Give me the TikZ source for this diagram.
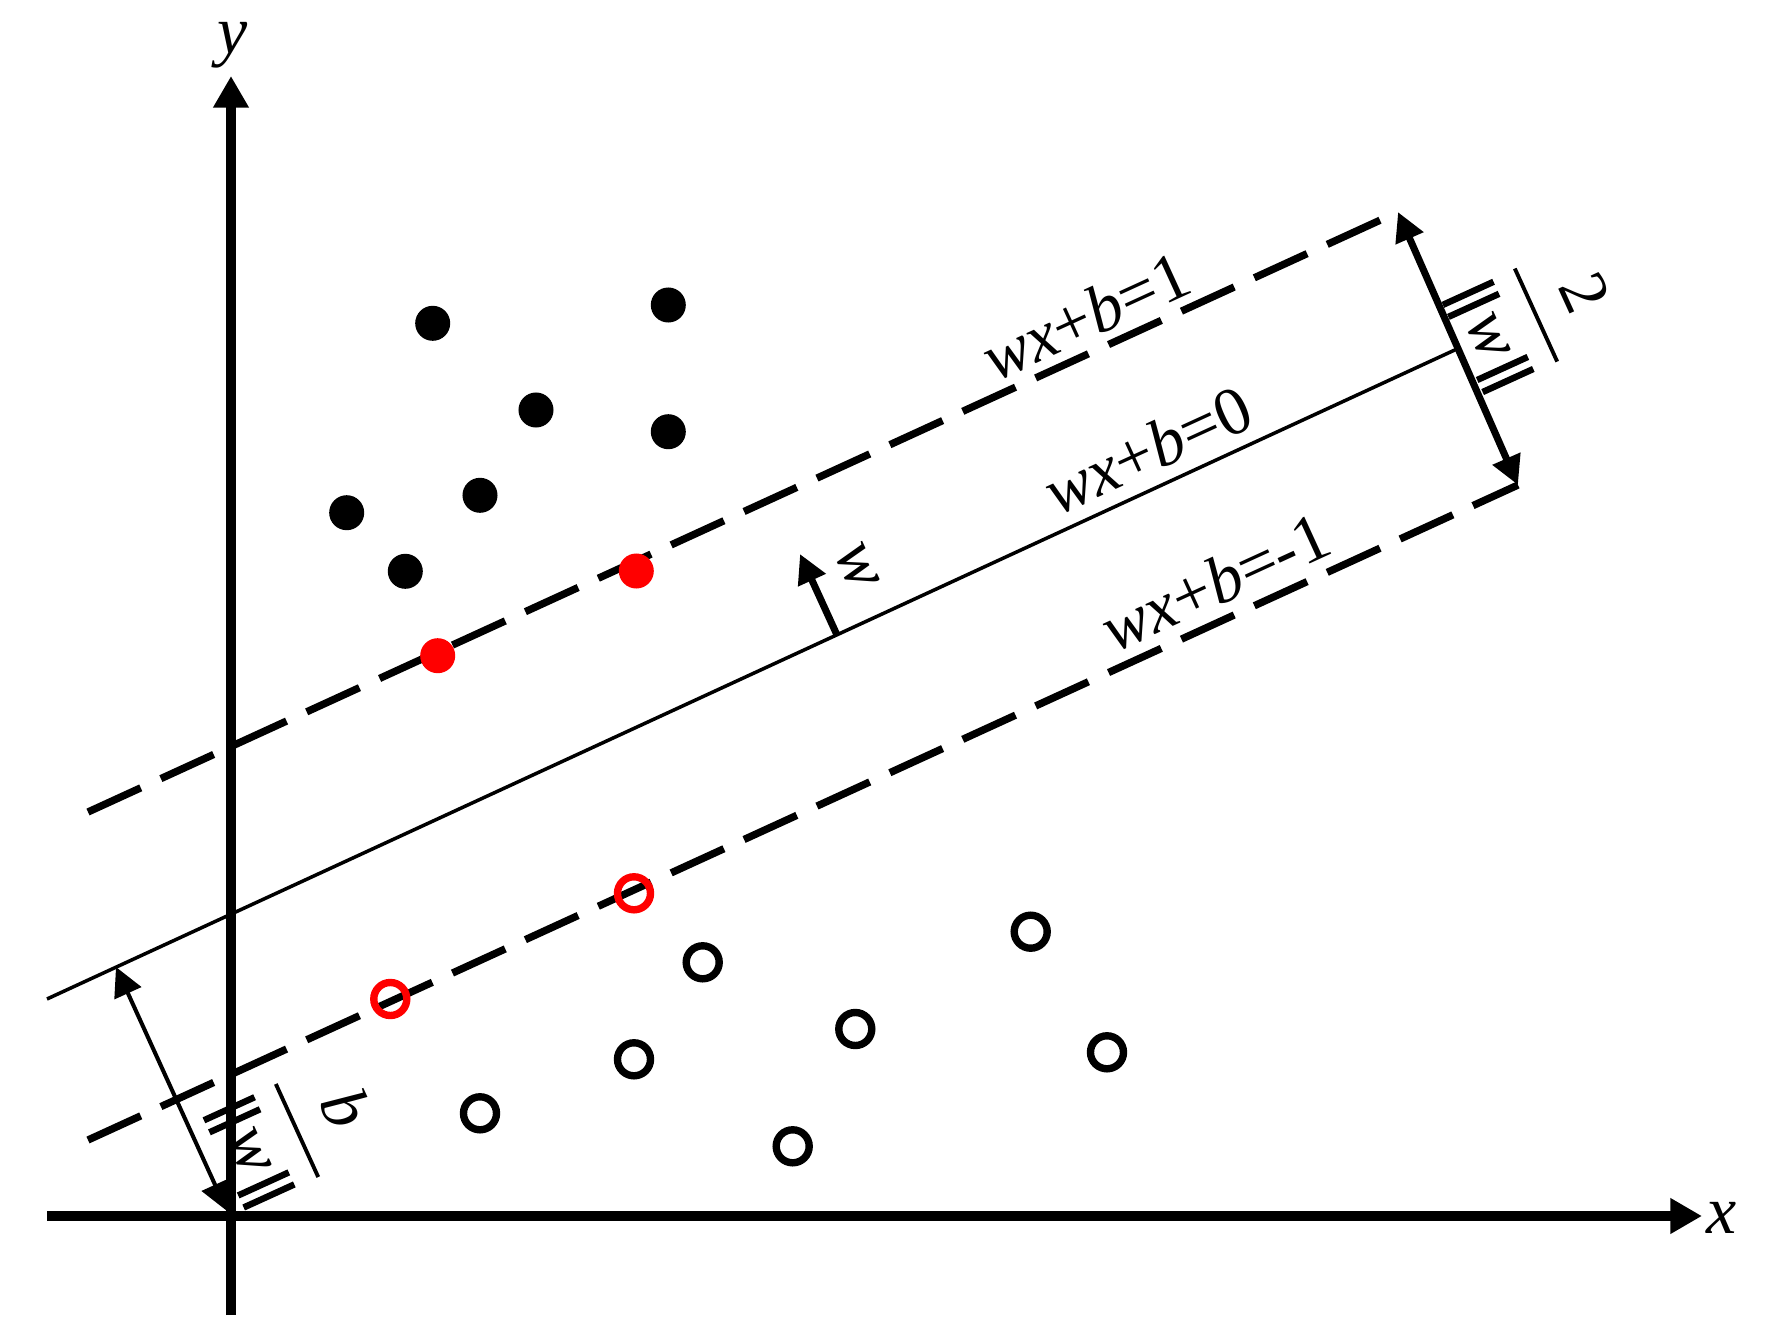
\documentclass[tikz,border=0pt]{standalone}
\usepackage{amsmath}
\usepackage{fontspec}
\setmainfont{Liberation Serif}
\usetikzlibrary{arrows.meta}
\newcommand{\nbar}{\rule[-0.18em]{0.095em}{0.82em}}
\newcommand{\nrmw}{\mbox{\nbar\hspace{0.1em}\nbar\hspace{0.12em}\textit{w}\hspace{0.14em}\nbar\hspace{0.1em}\nbar}}
\begin{document}
\begin{tikzpicture}[x=0.01cm,y=-0.01cm,
  axisline/.style={line width=3.1pt,-{Triangle[length=9pt,width=9.6pt]}},
  marginline/.style={line width=2.1pt,dash pattern=on 16.5pt off 6.3pt},
  hyperline/.style={line width=1pt},
  thickarrow/.style={line width=2pt},
  thinarrow/.style={line width=1.15pt},
  tipend/.style={-{Triangle[length=8.2pt,width=8.2pt]}},
  tipboth/.style={{Triangle[length=8.2pt,width=8.2pt]}-{Triangle[length=8.2pt,width=8.2pt]}},
  dot/.style={circle,fill=black,draw=none,minimum size=0.35cm,inner sep=0pt},
  reddot/.style={dot,fill=red},
  ring/.style={circle,draw=black,line width=2.1pt,minimum size=0.33cm,inner sep=0pt},
  redring/.style={ring,draw=red},
  lab/.style={font=\fontsize{19.3}{23}\selectfont,inner sep=0pt},
]
\useasboundingbox (0,0) rectangle (1765,1333);
% key coordinates
\coordinate (O) at (231,1216);
\coordinate (xs) at (47,1216);
\coordinate (xe) at (1702,1216);
\coordinate (ys) at (231,1315);
\coordinate (ye) at (231,76);
\coordinate (U1) at (88,812);
\coordinate (U2) at (1398,212);
\coordinate (L1) at (88,1140);
\coordinate (L2) at (1518,485);
\coordinate (M1) at (47,999);
\coordinate (M2) at (1458,348.5);
\coordinate (F) at (116,967);
\coordinate (Ob) at (227,1211);
\coordinate (W1) at (837,635);
\coordinate (W2) at (800,554);
% margin lines and hyperplane
\draw[marginline] (U1) -- (U2);
\draw[marginline] (L1) -- (L2);
\draw[hyperline] (M1) -- (M2);
% arrows
\draw[thickarrow,tipboth] (U2) -- (L2);
\draw[thinarrow,tipboth] (F) -- (Ob);
\draw[thickarrow,tipend] (W1) -- (W2);
% labels
\node[lab,rotate=24.6,anchor=base] (l1) at (1095,337) {\textit{wx}+\textit{b}=1};
\node[lab,rotate=24.6,anchor=base] (l0) at (1157,471) {\textit{wx}+\textit{b}=0};
\node[lab,rotate=24.6,anchor=base] (lm) at (1225,603) {\textit{wx}+\textit{b}=-1};
\node[lab,rotate=-65.5] (f2) at (1534,316) {$\genfrac{}{}{1.1pt}{0}{\mbox{2}}{\nrmw}$};
\node[lab,rotate=-65.5] (fb) at (296,1131) {$\genfrac{}{}{1.1pt}{0}{\mbox{\textit{b}}}{\nrmw}$};
\node[lab,rotate=-65.5] (wl) at (857,567) {\textit{w}};
% axes
\draw[axisline] (xs) -- (xe);
\draw[axisline] (ys) -- (ye);
\node[lab] (xl) at (1722,1218) {\textit{x}};
\node[lab] (yl) at (233,45) {\textit{y}};
% positive samples
\node[dot] (p1) at (432.7,323.3) {};
\node[dot] (p2) at (668.3,305) {};
\node[dot] (p3) at (536,410) {};
\node[dot] (p4) at (668.3,431.7) {};
\node[dot] (p5) at (346.7,512.7) {};
\node[dot] (p6) at (480,495.3) {};
\node[dot] (p7) at (405.3,571.3) {};
\node[reddot] (s1) at (636.3,571) {};
\node[reddot] (s2) at (437.7,655.7) {};
% negative samples
\node[redring] (s3) at (634,893.3) {};
\node[redring] (s4) at (390.3,999) {};
\node[ring] (n1) at (702.7,962.3) {};
\node[ring] (n2) at (634,1059.3) {};
\node[ring] (n3) at (480,1113.3) {};
\node[ring] (n4) at (1030.7,931.7) {};
\node[ring] (n5) at (855.3,1029) {};
\node[ring] (n6) at (1107,1052.3) {};
\node[ring] (n7) at (792.7,1146.3) {};
\end{tikzpicture}
\end{document}
